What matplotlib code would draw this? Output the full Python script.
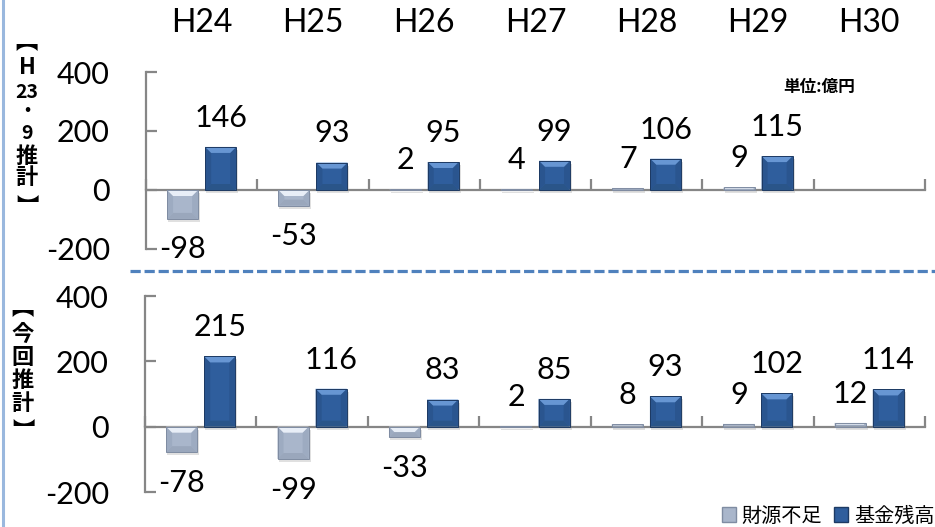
import matplotlib
matplotlib.use('Agg')
import matplotlib.pyplot as plt
import numpy as np
from matplotlib.patches import Polygon, Patch
from matplotlib.lines import Line2D
import matplotlib.transforms as mtransforms

# ---------------- data ----------------
years = ['H24', 'H25', 'H26', 'H27', 'H28', 'H29', 'H30']
prev_shortfall = [-98, -53, 2, 4, 7, 9, None]      # H23・9推計 財源不足
prev_fund = [146, 93, 95, 99, 106, 115, None]       # H23・9推計 基金残高
curr_shortfall = [-78, -99, -33, 2, 8, 9, 12]       # 今回推計 財源不足
curr_fund = [215, 116, 83, 85, 93, 102, 114]        # 今回推計 基金残高
yticks = [-200, 0, 200, 400]
series_names = ['財源不足', '基金残高']
unit_label = '単位:億円'

NUM_FONT = ['Lato', 'DejaVu Sans']
CJK_FONT = ['Noto Sans CJK JP', 'DejaVu Sans']
plt.rcParams['font.family'] = NUM_FONT

W, H = 935, 527
fig = plt.figure(figsize=(W / 100, H / 100), dpi=100)

def fx(px):
    return px / W

def fy(py):
    return 1 - py / H

ax_top = fig.add_axes([fx(146), fy(249), fx(925) - fx(146), fy(72) - fy(249)])
ax_bot = fig.add_axes([fx(145), fy(492), fx(925) - fx(145), fy(296) - fy(492)])

GRAY = '#868686'
colors = {
    'short': dict(base='#a9b6cb', light='#e8eef7', dark='#9aa7bc', side='#9dabc1', edge='#7f8ca2'),
    'fund': dict(base='#2f5e9d', light='#6796d3', dark='#2a5589', side='#2a558f', edge='#1d3a63'),
}

bw = 0.279
off = 0.171


def bevel(ax, patch, c, px=6):
    x0, y0 = patch.get_x(), patch.get_y()
    w, h = patch.get_width(), patch.get_height()
    (X0, Y0), (X1, Y1) = ax.transData.transform([(x0, min(y0, y0 + h)), (x0 + w, max(y0, y0 + h))])
    b = min(px, (X1 - X0) / 2, (Y1 - Y0) / 2)
    inv = ax.transData.inverted()

    def poly(pts, color, z=3):
        ax.add_patch(Polygon(inv.transform(pts), closed=True, facecolor=color,
                             edgecolor='none', zorder=z))
    # soft shadow
    poly([(X0 + 1, Y0 - 3), (X1 + 2, Y0 - 3), (X1 + 2, Y1 - 3), (X0 + 1, Y1 - 3)], (0, 0, 0, 0.12), 1.5)
    poly([(X0, Y0), (X0, Y1), (X0 + b, Y1 - b), (X0 + b, Y0 + b)], c['side'])
    poly([(X1, Y0), (X1, Y1), (X1 - b, Y1 - b), (X1 - b, Y0 + b)], c['side'])
    poly([(X0, Y0), (X1, Y0), (X1 - b, Y0 + b), (X0 + b, Y0 + b)], c['dark'])
    poly([(X0, Y1), (X1, Y1), (X1 - b, Y1 - b), (X0 + b, Y1 - b)], c['light'])
    ax.add_patch(Polygon(inv.transform([(X0, Y0), (X1, Y0), (X1, Y1), (X0, Y1)]), closed=True,
                         facecolor='none', edgecolor=c['edge'], lw=0.7, zorder=4))


def setup(ax):
    ax.set_xlim(-0.5, len(years) - 0.5)
    ax.set_ylim(-200, 400)
    ax.set_yticks(yticks)
    ax.set_yticklabels([str(v) for v in yticks], fontsize=22, family=NUM_FONT)
    ax.set_xticks(np.arange(-0.5, len(years), 1.0))
    ax.set_xticklabels([])
    for s in ['top', 'right']:
        ax.spines[s].set_visible(False)
    ax.spines['bottom'].set_position(('data', 0))
    for s in ['left', 'bottom']:
        ax.spines[s].set_color(GRAY)
        ax.spines[s].set_linewidth(1.6)
    ax.tick_params(axis='both', direction='in', length=8, width=1.6, color=GRAY)
    ax.tick_params(axis='y', pad=26, labelcolor='black')
    ax.set_facecolor('none')


def draw(ax, shortfall, fund):
    setup(ax)
    x = np.arange(len(years))
    for vals, sign, key in [(shortfall, -1, 'short'), (fund, 1, 'fund')]:
        c = colors[key]
        for i, v in enumerate(vals):
            if v is None:
                continue
            bars = ax.bar(x[i] + sign * off, v, width=bw, color=c['base'],
                          edgecolor='none', zorder=2)
            bevel(ax, bars[0], c)
            dy = 21 if v >= 0 else -22
            ax.annotate(str(v), (x[i] + sign * off, v), xytext=(0, dy),
                        textcoords='offset points', ha='center', va='center',
                        fontsize=22, family=NUM_FONT, color='black', zorder=5)


draw(ax_top, prev_shortfall, prev_fund)
draw(ax_bot, curr_shortfall, curr_fund)

# category labels across the top
trans = mtransforms.blended_transform_factory(ax_top.transData, fig.transFigure)
for i, yname in enumerate(years):
    ax_top.text(i, fy(23), yname, transform=trans, ha='center', va='center',
                fontsize=23, family=NUM_FONT, color='black')

# unit label
fig.text(fx(819), fy(87), unit_label, ha='center', va='center', fontsize=12,
         fontweight='bold', family=CJK_FONT)

# vertical panel labels (vertical-form brackets; their ink sits off-centre in the em box)
top_label = [('\ufe3b', 42, 16), ('H', 68, 16), ('23', 93, 14), ('・', 112, 13),
             ('9', 133, 14), ('推', 156, 16), ('計', 178, 16), ('\ufe3c', 207, 16)]
for ch, py, fs in top_label:
    fig.text(fx(27), fy(py), ch, ha='center', va='center', fontsize=fs, fontweight='bold',
             family=CJK_FONT)
bot_label = [('\ufe3b', 308, 16), ('今', 334, 16), ('回', 357, 16), ('推', 380, 16),
             ('計', 403, 16), ('\ufe3c', 431, 16)]
for ch, py, fs in bot_label:
    fig.text(fx(23), fy(py), ch, ha='center', va='center', fontsize=fs, fontweight='bold',
             family=CJK_FONT)

# dashed separator
fig.add_artist(Line2D([fx(130), fx(935)], [fy(271), fy(271)], transform=fig.transFigure,
                      color='#4f81bd', lw=2.3, dashes=(3.2, 1.2)))
# left border
fig.add_artist(Line2D([fx(2.5), fx(2.5)], [0, 1], transform=fig.transFigure,
                      color='#9ab8de', lw=2.2))

# legend
handles = [Patch(facecolor=colors['short']['base'], edgecolor=colors['short']['edge']),
           Patch(facecolor=colors['fund']['base'], edgecolor=colors['fund']['edge'])]
leg = fig.legend(handles, series_names, loc='center right', bbox_to_anchor=(fx(935), fy(516)),
                 ncol=2, frameon=False, handlelength=0.7, handleheight=0.7,
                 handletextpad=0.3, columnspacing=0.6, borderaxespad=0, borderpad=0,
                 prop={'family': CJK_FONT, 'size': 14.5})

fig.savefig('out.png', dpi=100)
